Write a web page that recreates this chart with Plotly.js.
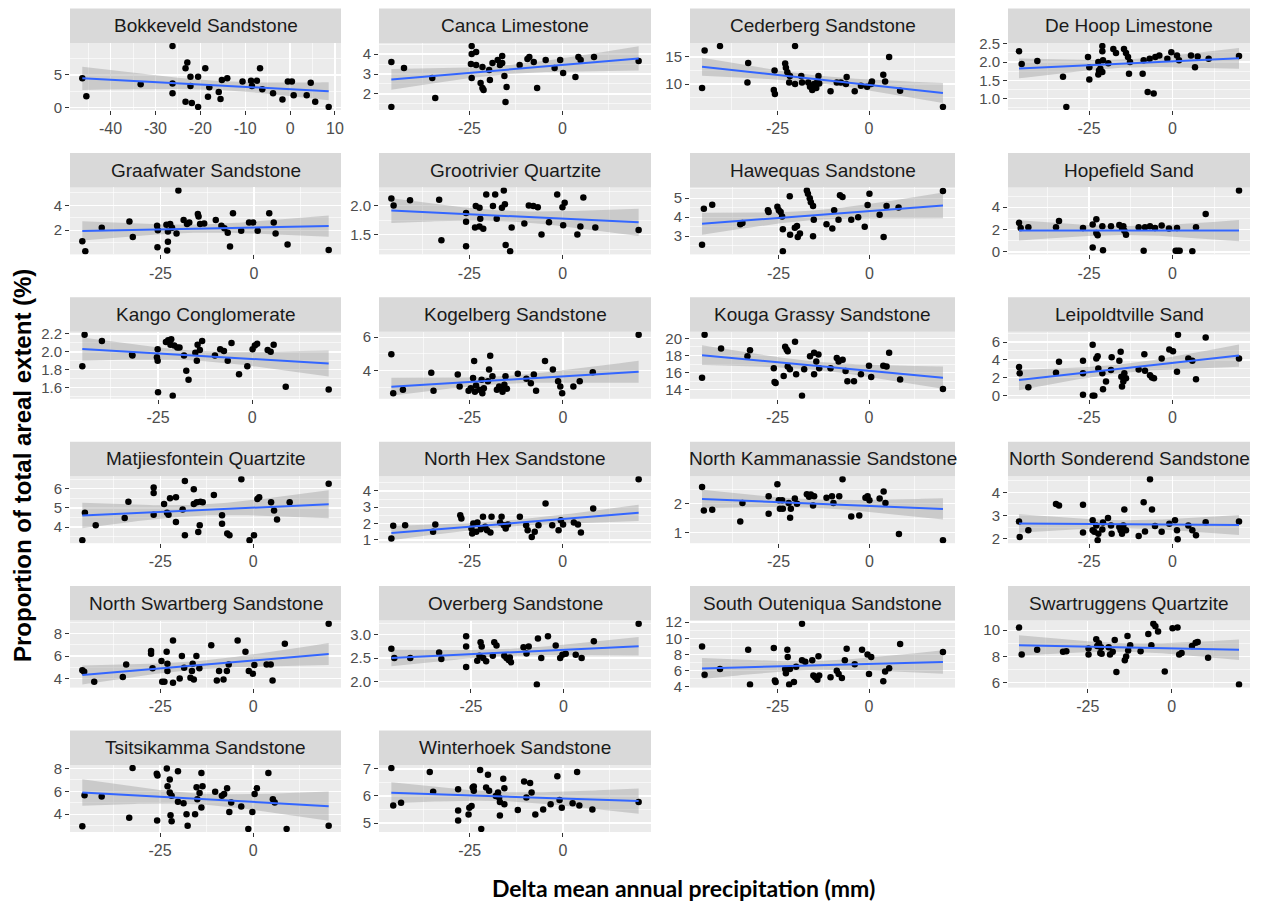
<!DOCTYPE html>
<html>
<head>
<meta charset="utf-8">
<script src="https://cdn.plot.ly/plotly-3.0.1.min.js"></script>
<style>html,body{margin:0;padding:0;background:#fff;}#chart{width:1261px;height:904px;}</style>
</head>
<body>
<div id="chart"></div>
<script>
// ---------------- DATA ----------------
const panelNames = ["Bokkeveld Sandstone","Canca Limestone","Cederberg Sandstone","De Hoop Limestone",
  "Graafwater Sandstone","Grootrivier Quartzite","Hawequas Sandstone","Hopefield Sand",
  "Kango Conglomerate","Kogelberg Sandstone","Kouga Grassy Sandstone","Leipoldtville Sand",
  "Matjiesfontein Quartzite","North Hex Sandstone","North Kammanassie Sandstone","North Sonderend Sandstone",
  "North Swartberg Sandstone","Overberg Sandstone","South Outeniqua Sandstone","Swartruggens Quartzite",
  "Tsitsikamma Sandstone","Winterhoek Sandstone"];

const bokkeveldX = [-46.3,-45.4,-33.3,-26.2,-26.2,-26.2,-23.3,-22.9,-23.3,-22.2,-22.2,-21.9,-20.5,-20.5,-18.9,-18.3,-18.0,-15.9,-15.5,-15.2,-14.0,-10.6,-8.7,-8.5,-7.4,-6.7,-6.2,-3.8,-1.7,-0.5,0.4,0.8,3.7,4.6,5.6,8.6];
const bokkeveldY = [4.5,1.75,3.55,9.4,3.7,2.2,6.0,6.9,0.9,4.7,3.3,0.7,4.7,0.1,6.0,1.65,3.1,2.4,1.3,4.2,4.5,4.0,4.1,3.3,4.1,6.0,2.8,2.2,1.25,4.0,4.0,1.9,1.9,3.8,0.9,0.1];

const cancaX = [-46,-46,-42.6,-35,-34.2,-24.4,-24.4,-24.4,-24.6,-23.2,-22,-21.5,-21.2,-23.2,-21.5,-19.7,-19.5,-18.8,-17.4,-16.8,-16.2,-16.2,-15.6,-15,-15.3,-11.5,-9.4,-8.9,-7.7,-6.8,-4.5,-2.1,-0.6,0.2,3.5,4.3,4.9,8.5,20.5];
const cancaY = [3.6,1.35,3.3,2.8,1.8,4.4,4.0,2.8,3.5,3.45,2.55,2.3,2.2,4.1,3.35,3.2,2.7,3.55,3.7,3.45,3.9,3.55,2.9,2.35,1.6,3.45,3.75,3.85,3.6,2.3,3.7,3.3,3.7,3.05,2.85,3.85,3.7,3.85,3.65];

const cederbergX = [-45.6,-44.9,-40.7,-33,-33.2,-26,-25.7,-25.8,-22.9,-22.7,-22.3,-21.8,-21.6,-20.2,-20.2,-18.5,-18.3,-16.6,-16.1,-15.5,-15,-14.4,-14.1,-13.8,-13.6,-10.5,-8.8,-7.7,-6.1,-6.3,-3.9,-2.2,-0.5,0.6,0.8,3.9,4.4,5.5,8.5,20.2];
const cederbergY = [9.3,16.2,17.0,13.9,10.3,8.9,8.2,12.5,13.8,13.0,12.2,10.3,11.5,17.0,10.0,11.5,10.3,10.3,9.5,8.9,10.0,9.3,10.5,11.5,10.1,8.7,10.3,10.3,11.3,10.0,8.7,9.7,9.5,10.0,10.5,11.7,10.5,15.0,8.8,5.8];

const deHoopX = [-46,-45.2,-40.5,-32.8,-31.8,-25.3,-24.9,-24.9,-22.2,-22.2,-22,-21.6,-21,-21,-20.8,-21,-19.2,-17.7,-16.9,-14.5,-13.9,-13.3,-12.7,-13,-8.9,-7.4,-5.6,-6.8,-5.1,-3.9,-0.3,1.4,2,5.6,6.8,7.6,10.9,20,-1.5,-8.6];
const deHoopY = [2.3,1.95,2.03,1.6,0.77,2.14,1.86,1.52,2.0,1.66,1.77,1.82,2.44,2.3,2.05,1.73,1.97,2.36,2.25,2.36,2.25,2.14,2.0,1.68,1.68,1.18,1.14,2.09,2.14,2.18,2.27,2.18,2.05,2.18,1.86,2.15,2.09,2.17,2.09,2.05];

const graafwaterX = [-45.9,-45.1,-40.7,-33.3,-32.4,-25.9,-25.7,-25.8,-23.4,-23,-23,-23.2,-22.4,-21.9,-20.7,-20.2,-18.8,-17.9,-17.3,-15,-14.8,-14.4,-13.3,-10.2,-8.7,-7.9,-7,-6.4,-5.6,-3.4,-1.3,-0.2,1,4.1,5.3,5.8,9,20];
const graafwaterY = [1.12,0.3,2.2,2.7,1.45,2.35,2.0,0.63,2.45,1.9,1.07,0.36,2.5,2.2,1.73,5.2,2.82,2.5,2.63,3.3,3.1,2.5,2.55,2.82,2.36,2.16,1.8,0.7,3.37,1.95,2.63,2.63,1.95,3.37,2.63,1.73,0.85,0.4];

const grootrivierX = [-45.9,-45.3,-40.9,-33.1,-32.5,-25.9,-25.9,-25.9,-23.3,-22.3,-22.1,-22.3,-23.5,-21.3,-20.5,-18.7,-18.1,-17.7,-16.3,-15.8,-15.5,-15.3,-14.1,-13.7,-10.3,-9.1,-7.9,-6.7,-5.7,-3.7,-1.5,-0.1,0.5,0.1,3.9,4.7,5.5,8.7,20.3];
const grootrivierY = [2.12,2.0,2.09,2.1,1.4,1.3,1.72,1.87,1.99,1.96,1.77,1.64,1.62,1.6,2.19,1.99,2.19,1.77,1.96,2.26,2.02,1.32,1.21,1.62,1.69,2.0,1.99,1.97,1.5,1.71,2.19,1.97,2.05,1.66,1.5,1.64,2.14,1.62,1.58];

const hawequasX = [-46,-45.5,-43.2,-35.5,-34.9,-27.9,-27.7,-25.3,-24.9,-24.4,-24,-23.8,-23.8,-21.9,-21.8,-20.5,-19.9,-19.7,-19.1,-17.2,-16.9,-16.4,-16.1,-15.5,-15.5,-15.3,-11.8,-10.2,-9.7,-8.5,-8.1,-7.4,-5,-3.1,-1.3,-0.5,0,2.8,3.9,4.7,8,20.2];
const hawequasY = [2.55,4.45,4.65,3.63,3.69,4.37,4.28,4.55,4.37,4.28,4.04,3.36,2.2,5.1,3.08,3.45,3.54,2.95,3.14,5.41,5.23,5.0,4.79,4.59,2.99,3.87,3.63,3.4,4.37,3.87,5.16,5.06,3.87,4.0,3.5,4.64,5.23,4.13,2.95,4.59,4.51,5.38];

const hopefieldX = [-46,-45.5,-43.2,-34.9,-34,-26.8,-23.9,-23.9,-22.8,-22.8,-22.4,-21,-20.8,-18.4,-15.9,-15.1,-14.7,-14.4,-13.9,-10.1,-8.6,-8.2,-6.7,-5.2,-3.2,-1,1,1.6,1.4,2.2,6,7.1,10,20];
const hopefieldY = [2.6,2.15,2.2,2.2,2.77,2.15,2.46,0.4,2.92,1.7,1.48,2.3,0.15,2.3,2.4,2.15,2.3,1.9,1.54,2.2,0.1,2.2,2.3,2.15,2.37,2.1,0.1,0.1,2.15,0.1,0.05,2.2,3.4,5.5];

const kangoX = [-45.1,-44.5,-39.9,-31.9,-31.8,-25.3,-25.1,-25.1,-25,-22.9,-22.3,-21.7,-21.5,-21.1,-20.7,-19.9,-19.3,-18.1,-17.5,-16.9,-15.1,-14.7,-14.5,-13.9,-13.3,-9.9,-8.5,-7.5,-6.5,-5.5,-3.5,-1.3,0.1,0.7,1.3,4.1,4.9,5.7,8.9,20.3];
const kangoY = [1.84,2.19,2.12,1.97,1.96,1.94,1.9,2.03,1.55,2.11,2.13,2.08,2.14,1.51,2.07,2.05,2.05,1.96,1.79,1.69,1.99,1.9,2.08,2.02,2.12,1.96,2.03,2.01,1.9,2.1,1.75,1.84,2.03,2.07,2.09,2.02,2.0,2.08,1.61,1.58];

const kogelbergX = [-46,-45.5,-42.9,-35.3,-34.7,-28.2,-27.7,-25.3,-24.7,-24.1,-23.8,-23.6,-23.3,-22.4,-21.8,-21.6,-21.2,-20.1,-19.8,-19.5,-18.9,-17.7,-17.1,-16.5,-16.2,-15.7,-15.4,-15,-12.1,-9.8,-8.6,-7.8,-7.2,-4.8,-2.7,-1.3,-0.7,-0.2,2.8,4.5,8,20.3];
const kogelbergY = [4.98,2.63,2.84,3.86,2.78,3.76,3.04,2.78,2.94,3.55,4.57,2.73,3.1,2.84,3.45,2.63,2.94,3.35,4.06,4.88,3.65,2.84,3.04,2.94,2.73,3.14,3.65,2.9,3.8,3.51,3.24,3.76,2.78,4.57,4.06,3.35,3.04,2.63,3.04,3.35,3.9,6.14];

const kougaX = [-45.6,-44.9,-40.4,-33.2,-32.5,-26,-25.8,-25.5,-23.3,-22.9,-22.5,-22.2,-22.2,-21.6,-20.2,-19.9,-18.3,-17.7,-16.1,-15,-15,-14.4,-13.8,-13.6,-10.5,-8.8,-8.3,-7.2,-6.4,-5.9,-4.1,-2.2,0,0.6,3.9,4.8,5.5,8.5,20.2];
const kougaY = [15.4,20.4,18.8,17.9,18.6,16.5,14.9,14.8,15.6,19,18.7,18.5,16.7,16.4,19.6,15.8,13.3,16.4,17.9,18.3,15.8,17.3,18.1,16.5,16.5,17.7,17.3,17.5,16.2,15,15,15.8,16.8,15.5,16.8,16.7,18.3,15.2,14.1];

const leipoldtvilleX = [-46,-45.8,-43.2,-34.9,-34,-26.8,-26.8,-26.8,-23.9,-23.9,-23.4,-22.8,-22.4,-22.2,-21,-20.8,-19.9,-18.4,-18.2,-15.9,-15.5,-15.3,-15.1,-14.7,-14.4,-13.9,-10.1,-8.4,-8.2,-6.7,-6.1,-5.5,-3.2,-0.9,0.2,1.4,1.7,4.8,6,7.1,10,20];
const leipoldtvilleY = [3.2,2.5,0.96,2.57,3.8,3.9,2.5,0.1,5.7,0,0,4.15,4.4,3.05,2.5,0.74,1.58,2.87,4.3,3.9,4.9,2.13,1.03,1.58,2.5,1.95,2.94,4.63,2.8,2.3,2.05,1.95,4.15,5.15,4.96,2.68,6.8,4.15,3.9,1.84,6.5,4.15];

const matjiesfonteinX = [-46,-45.3,-42.4,-34.6,-33.6,-26.8,-26.8,-26.8,-24,-23.2,-22.8,-22.4,-20.8,-20.8,-19,-18.4,-18.4,-16,-16,-15.2,-14.8,-14.4,-14.2,-13.6,-10.6,-8.4,-8.4,-7,-6.4,-3.2,-1,0.2,1.1,1.6,4.8,5.6,6.4,9.8,20.3];
const matjiesfonteinY = [3.32,4.74,4.09,4.47,5.32,6.06,5.77,4.64,5.2,4.74,4.64,5.5,5.55,4.26,4.91,6.4,3.58,5.97,5.2,5.29,3.75,4.09,5.32,5.29,5.67,4.61,4.18,3.67,3.58,6.49,3.32,3.58,5.46,5.55,5.29,4.86,4.4,5.29,6.26];

const northHexX = [-46,-45.5,-42.3,-34.8,-34.2,-27.5,-27.2,-24.5,-24.3,-24,-23.2,-22.9,-22,-21.4,-20.8,-20.3,-19.4,-19.1,-16.8,-16.4,-15.8,-15.3,-14.7,-11.5,-9.8,-9.4,-8.3,-7.5,-6.5,-4.6,-2.8,-1.1,-0.5,0.1,3,4.1,4.9,8.2,20.4];
const northHexY = [1.08,1.86,1.9,1.49,1.94,2.51,2.31,1.69,1.39,2.0,1.49,2.06,1.65,2.41,1.8,1.59,1.45,2.41,2.06,2.41,1.9,1.69,1.94,2.41,1.9,1.59,1.18,1.49,1.9,3.22,1.9,1.59,2.2,1.94,2.06,1.94,1.45,2.92,4.71];

const northKammanassieX = [-46,-45.5,-43.2,-35.5,-34.9,-27.7,-27.7,-25.3,-24.9,-24.6,-24,-23.8,-22.2,-21.8,-21.6,-20.5,-19.9,-17.2,-16.6,-16.1,-15.5,-15.2,-11.8,-10.3,-9.9,-8.3,-7.4,-5,-2.8,-1.1,-0.5,0,2.8,3.9,4.4,8.1,20.2];
const northKammanassieY = [2.58,1.76,1.79,1.38,2.02,1.65,2.26,2.68,2.12,1.82,2.12,1.82,2.02,1.51,1.82,2.18,2.0,2.33,2.24,2.32,1.94,2.26,2.21,2.26,2.02,2.26,2.85,1.55,1.59,2.21,2.26,2.12,2.18,2.42,2.02,0.94,0.73];

const northSonderendX = [-46,-45.8,-43.2,-34.9,-34,-26.8,-26.8,-23.9,-23.9,-23.4,-22.8,-22.4,-22.2,-21,-20.8,-19.3,-18.4,-18.2,-15.9,-15.5,-15.1,-14.7,-14.4,-13.9,-10.1,-8.6,-8.2,-6.7,-6.1,-5.2,-3.2,-0.9,0.8,1.4,1.6,4.8,6,7.1,10,20];
const northSonderendY = [2.74,2.07,2.36,3.5,3.43,3.46,2.26,2.79,2.36,2.29,2.57,1.93,2.21,2.39,2.69,2.89,2.57,2.21,2.5,2.36,2.21,2.57,3.26,2.36,2.11,3.57,2.31,4.57,3.26,2.54,2.29,2.64,2.79,2.36,1.97,2.57,2.36,2.14,2.71,2.74];

const northSwartbergX = [-46,-45.5,-42.8,-35.1,-34.2,-27.5,-27.5,-27.1,-24.7,-24.5,-23.9,-23.3,-23.1,-23.1,-21.6,-21.6,-19.8,-19.2,-18.6,-16.9,-16.5,-16.3,-16,-15.3,-14.5,-11.3,-9.8,-9.2,-8,-7.1,-6.6,-4.2,-2.1,-1.2,-0.1,0.3,3.6,4.7,5.2,8.5,20.3];
const northSwartbergY = [4.72,4.6,3.7,4.12,5.25,6.45,6.21,4.9,5.55,3.7,3.7,6.39,5.31,4.66,7.4,3.61,4.0,6.0,4.96,4.06,4.66,5.31,3.91,6.0,4.9,6.96,3.82,4.66,3.91,4.66,5.25,7.4,6.39,4.66,4.42,5.19,5.25,5.25,3.82,7.1,8.9];

const overbergX = [-46.5,-45.7,-41.4,-33.6,-33,-26.3,-26.3,-26.3,-23.3,-22.7,-22.4,-22.1,-21.7,-20.9,-18.7,-18.1,-19.1,-16,-15.4,-14.8,-14.5,-14.2,-10.8,-10,-9.4,-7.2,-6.9,-6,-4.2,-2.1,-0.9,-0.3,0.6,3.3,4.9,8.2,20.3];
const overbergY = [2.7,2.5,2.5,2.62,2.48,2.97,2.75,2.31,2.44,2.55,2.84,2.75,2.5,2.43,2.84,2.77,2.55,2.55,2.5,2.46,2.51,2.41,2.73,2.6,2.75,1.93,2.92,2.5,2.97,2.77,2.5,2.57,2.59,2.57,2.5,2.86,3.24];

const southOuteniquaX = [-45.6,-44.9,-40.7,-33,-32.5,-26,-25.7,-25.5,-22.9,-22.7,-22.3,-22.2,-21.8,-21.6,-20.5,-19.9,-18.3,-18.3,-17.4,-15.5,-15.2,-14.7,-14.1,-13.8,-13.6,-10.5,-8.8,-8.3,-7.4,-6.6,-6.1,-3.9,-1.9,-0.4,0.6,0,3.9,4.4,5.5,8.5,20.2];
const southOuteniquaY = [9.0,5.5,6.2,8.6,4.3,8.8,4.8,4.6,6.2,5.7,8.6,7.7,4.3,6.2,4.6,6.5,11.8,7.3,7.1,7.3,5.4,5.2,4.9,7.8,5.4,5.2,6.0,5.6,5.1,7.3,8.7,6.8,8.6,8.0,7.7,5.6,4.7,5.9,6.3,9.3,8.3];

const swartruggensX = [-45.5,-44.7,-40.1,-32.4,-31.4,-24.8,-24.8,-22.5,-22.2,-21.7,-21.3,-21.1,-20.9,-18.8,-18.4,-17.6,-17,-16.5,-14,-13.6,-13.2,-13,-12.4,-9.3,-7,-6.1,-5.5,-4.9,-4.1,-2.1,0.2,1.7,2.2,2.9,6,7.1,7.7,10.8,20];
const swartruggensY = [10.2,8.15,8.5,8.35,8.4,8.6,8.15,9.3,8.8,9.0,8.25,8.7,8.2,8.7,8.15,8.35,9.25,6.8,7.7,8.0,9.55,8.45,8.85,8.4,9.7,8.85,10.5,10.3,9.9,6.85,10.15,10.2,8.15,8.25,8.8,9.05,9.1,7.9,5.85];

const tsitsikammaX = [-45.9,-45.3,-40.7,-33.3,-32.4,-25.9,-25.7,-25.8,-23.2,-23,-22.4,-22.4,-22.2,-21.9,-21.9,-20.2,-20.2,-18.7,-17.9,-17.6,-15.6,-15.2,-15,-14.4,-13.9,-13.6,-13.9,-10.2,-8.4,-7.8,-7,-6.4,-5.9,-3.2,-1.3,-0.2,0.4,1,4.1,5.3,5.8,9,20.3];
const tsitsikammaY = [2.95,5.67,5.56,3.69,8.04,7.54,7.39,3.45,7.99,6.44,7.04,5.91,3.9,3.39,5.61,7.75,5.08,4.96,3.99,3.0,3.99,6.36,5.32,5.85,7.6,6.44,4.58,5.97,5.61,5.76,6.27,4.19,5.02,4.67,2.71,4.19,5.76,6.27,7.6,5.32,5.02,2.71,3.0];

const winterhoekX = [-46,-45.5,-43.4,-35.7,-34.8,-28.1,-28.1,-28.1,-25.3,-25.1,-24.5,-24.2,-23.9,-23.9,-22.2,-21.9,-20.6,-20.1,-19.8,-18,-17.4,-17.1,-16.9,-16.9,-16,-15.7,-15.7,-12.1,-10.4,-9.8,-8.8,-8.4,-7.4,-5.3,-3.3,-1.5,-0.9,-0.3,2.6,3.8,4.4,7.9,20.3];
const winterhoekY = [7.03,5.65,5.75,6.88,6.15,6.25,5.46,5.09,5.31,5.56,5.63,6.31,6.19,6.35,6.96,4.78,6.31,6.78,6.19,6.0,6.13,5.94,5.78,5.28,6.63,6.28,5.69,5.48,6.53,5.94,6.48,6.13,5.31,5.5,5.69,6.73,5.85,5.56,5.73,6.88,5.65,5.5,5.78];

const panelX = [bokkeveldX,cancaX,cederbergX,deHoopX,graafwaterX,grootrivierX,hawequasX,hopefieldX,
  kangoX,kogelbergX,kougaX,leipoldtvilleX,matjiesfonteinX,northHexX,northKammanassieX,northSonderendX,
  northSwartbergX,overbergX,southOuteniquaX,swartruggensX,tsitsikammaX,winterhoekX];
const panelY = [bokkeveldY,cancaY,cederbergY,deHoopY,graafwaterY,grootrivierY,hawequasY,hopefieldY,
  kangoY,kogelbergY,kougaY,leipoldtvilleY,matjiesfonteinY,northHexY,northKammanassieY,northSonderendY,
  northSwartbergY,overbergY,southOuteniquaY,swartruggensY,tsitsikammaY,winterhoekY];

// tick spacing per panel (x and y)
const xTickStep = [10,25,25,25,25,25,25,25,25,25,25,25,25,25,25,25,25,25,25,25,25,25];
const yTickStep = [5,1,5,0.5,2,0.5,1,2,0.2,2,2,2,1,1,1,1,2,0.5,2,2,2,1];
const yTickDecimals = [0,0,0,1,0,1,0,0,1,0,0,0,0,0,0,0,0,1,0,0,0,0];

const xTitle = "Delta mean annual precipitation (mm)";
const yTitle = "Proportion of total areal extent (%)";

// ---------------- LAYOUT GEOMETRY ----------------
const W = 1261, H = 904;
const colLeft  = [70, 379, 690, 1008];
const colRight = [341, 651, 955, 1250];
const rowTop0 = 8.5, rowPitch = 144.4, stripH = 34.5, panelH = 67;

function tQuant(df){ const z=1.959964; return z + (z*z*z+z)/(4*df) + (5*Math.pow(z,5)+16*z*z*z+3*z)/(96*df*df); }

function fit(xs, ys){
  const n = xs.length;
  const xb = xs.reduce((a,b)=>a+b,0)/n, yb = ys.reduce((a,b)=>a+b,0)/n;
  let sxx=0, sxy=0;
  for(let i=0;i<n;i++){ sxx+=(xs[i]-xb)**2; sxy+=(xs[i]-xb)*(ys[i]-yb); }
  const b = sxy/sxx, a = yb - b*xb;
  let sse=0; for(let i=0;i<n;i++){ sse += (ys[i]-a-b*xs[i])**2; }
  const s = Math.sqrt(sse/(n-2)), t = tQuant(n-2);
  const x0 = Math.min(...xs), x1 = Math.max(...xs);
  const gx=[], gy=[], lo=[], hi=[];
  for(let k=0;k<=80;k++){
    const x = x0 + (x1-x0)*k/80, yh = a + b*x;
    const se = s*Math.sqrt(1/n + (x-xb)**2/sxx);
    gx.push(x); gy.push(yh); lo.push(yh - t*se); hi.push(yh + t*se);
  }
  return {gx, gy, lo, hi};
}

function ticksFor(r0, r1, step, dec){
  const vals=[], txt=[], minor=[];
  const start = Math.ceil(r0/step - 1e-9)*step;
  for(let v=start; v<=r1+1e-9; v+=step){ const vv=+v.toFixed(6); vals.push(vv); txt.push(vv.toFixed(dec)); }
  const ms = Math.floor(r0/step)*step - step/2;
  for(let v=ms; v<=r1+step; v+=step){ if(v>=r0 && v<=r1) minor.push(+v.toFixed(6)); }
  return {vals, txt, minor};
}

const traces = [], shapes = [], annotations = [];
const layout = {
  width: W, height: H,
  margin: {l:0, r:0, t:0, b:0},
  paper_bgcolor: '#FFFFFF',
  plot_bgcolor: '#EBEBEB',
  showlegend: false,
  font: {family: 'Liberation Sans, Arial, sans-serif'}
};

const xTickFont = {family: 'Liberation Sans, Arial, sans-serif', size: 16, color: '#4D4D4D'};
const yTickFont = {family: 'Liberation Sans, Arial, sans-serif', size: 15, color: '#4D4D4D'};

for(let p=0; p<panelNames.length; p++){
  const r = Math.floor(p/4), c = p%4;
  const xs = panelX[p], ys = panelY[p];
  const f = fit(xs, ys);
  const xmin = Math.min(...xs), xmax = Math.max(...xs);
  const ymin = Math.min(...ys, ...f.lo), ymax = Math.max(...ys, ...f.hi);
  const xr = [xmin - 0.05*(xmax-xmin), xmax + 0.05*(xmax-xmin)];
  const yr = [ymin - 0.05*(ymax-ymin), ymax + 0.05*(ymax-ymin)];
  const id = p===0 ? '' : String(p+1);
  const xa = 'x'+id, ya = 'y'+id;

  const stripTop = rowTop0 + rowPitch*r;
  const plotTop = stripTop + stripH;
  const plotBot = plotTop + panelH;
  const L = colLeft[c], R = colRight[c];

  const xt = ticksFor(xr[0], xr[1], xTickStep[p], 0);
  const yt = ticksFor(yr[0], yr[1], yTickStep[p], yTickDecimals[p]);

  layout['xaxis'+id] = {
    domain: [L/W, R/W], anchor: ya, range: xr,
    tickmode: 'array', tickvals: xt.vals, ticktext: xt.txt,
    showgrid: true, gridcolor: '#FFFFFF', gridwidth: 1.3,
    minor: {tickmode: 'array', tickvals: xt.minor, showgrid: true, gridcolor: '#FFFFFF', gridwidth: 0.6, ticks: ''},
    ticks: 'outside', ticklen: 4, tickwidth: 1, tickcolor: '#333333',
    tickfont: xTickFont, zeroline: false, showline: false, fixedrange: true
  };
  layout['yaxis'+id] = {
    domain: [1 - plotBot/H, 1 - plotTop/H], anchor: xa, range: yr,
    tickmode: 'array', tickvals: yt.vals, ticktext: yt.txt,
    showgrid: true, gridcolor: '#FFFFFF', gridwidth: 1.3,
    minor: {tickmode: 'array', tickvals: yt.minor, showgrid: true, gridcolor: '#FFFFFF', gridwidth: 0.6, ticks: ''},
    ticks: 'outside', ticklen: 4, tickwidth: 1, tickcolor: '#333333',
    tickfont: yTickFont, zeroline: false, showline: false, fixedrange: true
  };

  // confidence band
  traces.push({
    type: 'scatter', mode: 'lines', xaxis: xa, yaxis: ya,
    x: f.gx.concat(f.gx.slice().reverse()),
    y: f.hi.concat(f.lo.slice().reverse()),
    fill: 'toself', fillcolor: 'rgba(153,153,153,0.4)', line: {width: 0}, hoverinfo: 'skip'
  });
  // points
  traces.push({
    type: 'scatter', mode: 'markers', xaxis: xa, yaxis: ya, x: xs, y: ys,
    marker: {color: '#000000', size: 6.5}
  });
  // regression line
  traces.push({
    type: 'scatter', mode: 'lines', xaxis: xa, yaxis: ya, x: f.gx, y: f.gy,
    line: {color: '#3366FF', width: 2}
  });

  // strip
  shapes.push({type: 'rect', xref: 'paper', yref: 'paper', x0: L/W, x1: R/W,
    y0: 1 - plotTop/H, y1: 1 - stripTop/H, fillcolor: '#D9D9D9', line: {width: 0}, layer: 'below'});
  annotations.push({xref: 'paper', yref: 'paper', x: (L+R)/2/W, y: 1 - (stripTop+stripH/2)/H,
    text: panelNames[p], showarrow: false, xanchor: 'center', yanchor: 'middle',
    font: {family: 'Liberation Sans, Arial, sans-serif', size: 19, color: '#1A1A1A'}});
}

annotations.push({xref: 'paper', yref: 'paper', x: 683/W, y: 1 - 888/H, text: '<b>'+xTitle+'</b>',
  showarrow: false, xanchor: 'center', yanchor: 'middle',
  font: {family: 'Lato, Open Sans, sans-serif', size: 23, color: '#000000'}});
annotations.push({xref: 'paper', yref: 'paper', x: 22/W, y: 1 - 466/H, text: '<b>'+yTitle+'</b>',
  showarrow: false, xanchor: 'center', yanchor: 'middle', textangle: -90,
  font: {family: 'Liberation Sans, Arial, sans-serif', size: 24, color: '#000000'}});

layout.shapes = shapes;
layout.annotations = annotations;

Plotly.newPlot('chart', traces, layout, {displayModeBar: false, staticPlot: true});
</script>
</body>
</html>
